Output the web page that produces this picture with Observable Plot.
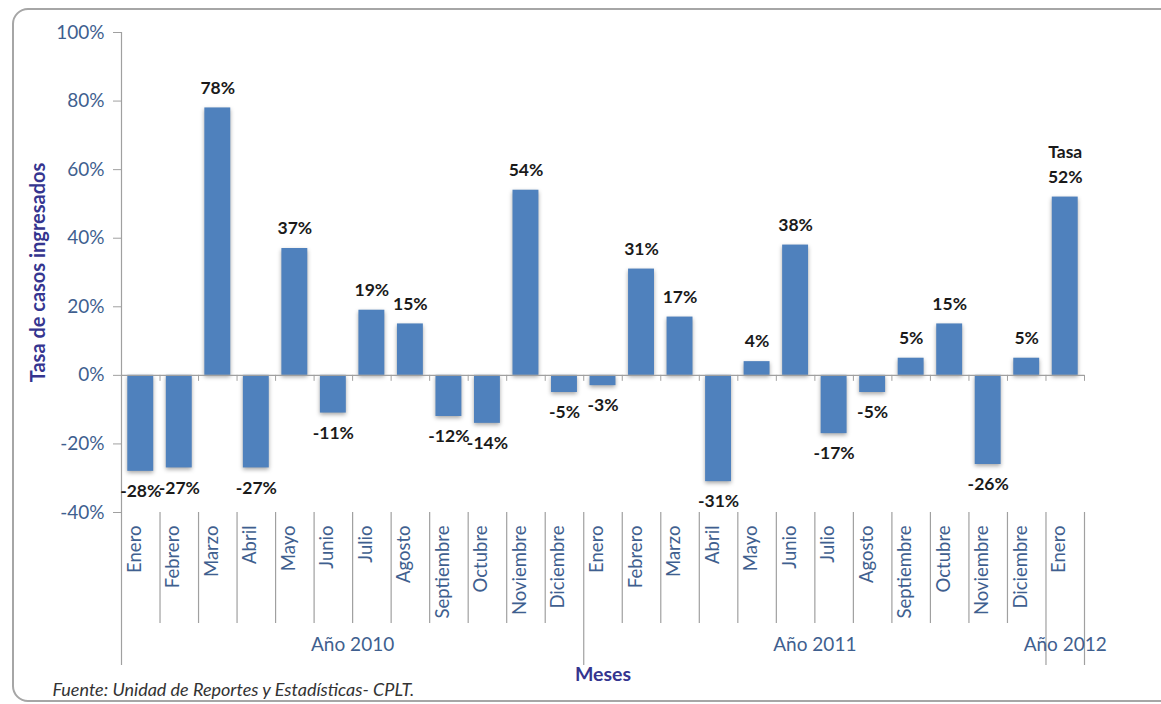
<!DOCTYPE html>
<html>
<head>
<meta charset="utf-8">
<script src="https://cdn.jsdelivr.net/npm/d3@7"></script>
<script src="https://cdn.jsdelivr.net/npm/@observablehq/plot@0.6"></script>
<style>
  html, body { margin: 0; padding: 0; background: #fff; }
  #wrap { position: relative; width: 1161px; height: 704px; overflow: hidden; }
  #frame { position: absolute; left: 12px; top: 8px; width: 1170px; height: 694px;
           border: 2px solid #a6a6a6; border-radius: 16px; box-sizing: border-box; }
  #chart { position: absolute; left: 0; top: 0; }
  g[aria-label^="y-axis"] text { fill: #3F5F8F; font-size: 19px; }
  .shadow rect { filter: drop-shadow(0px 2px 2px rgba(0,0,0,0.35)); }
</style>
</head>
<body>
<div id="wrap"><div id="frame"></div><div id="chart"></div></div>
<script>
const months = ["Enero","Febrero","Marzo","Abril","Mayo","Junio","Julio","Agosto","Septiembre","Octubre","Noviembre","Diciembre",
                "Enero","Febrero","Marzo","Abril","Mayo","Junio","Julio","Agosto","Septiembre","Octubre","Noviembre","Diciembre",
                "Enero"];
const values = [-28, -27, 78, -27, 37, -11, 19, 15, -12, -14, 54, -5,
                -3, 31, 17, -31, 4, 38, -17, -5, 5, 15, -26, 5,
                52];
const years = ["Año 2010", "Año 2011", "Año 2012"];
const yearCounts = [12, 12, 1];
const yTicks = [-40, -20, 0, 20, 40, 60, 80, 100];
const yTitle = "Tasa de casos ingresados";
const xTitle = "Meses";
const source = "Fuente: Unidad de Reportes y Estadísticas- CPLT.";
const extraLabel = "Tasa";

const data = values.map((v, i) => ({i, v, m: months[i]}));
const n = values.length;
const yMin = yTicks[0], yMax = yTicks[yTicks.length - 1];

// year groups
let start = 0;
const yearData = years.map((y, k) => {
  const d = {label: y, start, end: start + yearCounts[k]};
  start += yearCounts[k];
  return d;
});
const yearSeps = [0, ...yearData.map(d => d.end)];
const monthSeps = d3.range(1, n).filter(i => !yearSeps.includes(i));
const boundaries = d3.range(0, n + 1);

const axisColor = "#a0a0a0";
const labelBlue = "#3F5F8F";
const titleBlue = "#35358F";
const valueSize = 17.5;

const chart = Plot.plot({
  width: 1161,
  height: 704,
  marginLeft: 121,
  marginRight: 77,
  marginTop: 32,
  marginBottom: 192,
  style: {fontFamily: "Lato, 'Open Sans', sans-serif", fontSize: "18px", color: axisColor, background: "transparent", overflow: "visible"},
  x: {domain: [0, n], axis: null},
  y: {domain: [yMin, yMax], ticks: yTicks, tickFormat: d => d + "%", tickSize: 8, tickPadding: 9, label: null},
  marks: [
    // y axis line
    Plot.ruleX([0], {stroke: axisColor, strokeWidth: 1.2}),
    // bars
    Plot.rectY(data, {x1: d => d.i, x2: d => d.i + 1, y: "v", insetLeft: 6.3, insetRight: 6.3, fill: "#4F81BD", className: "shadow"}),
    // zero line
    Plot.ruleY([0], {stroke: axisColor, strokeWidth: 1.2}),
    // small ticks on zero line
    Plot.ruleX(boundaries, {x: d => d, y1: () => 0, y2: () => 0, insetBottom: -6, stroke: axisColor}),
    // month separators
    Plot.ruleX(monthSeps, {x: d => d, y1: () => yMin, y2: () => yMin, insetBottom: -111, stroke: axisColor, strokeWidth: 1.2}),
    // year separators
    Plot.ruleX(yearSeps, {x: d => d, y1: () => yMin, y2: () => yMin, insetBottom: -153, stroke: axisColor, strokeWidth: 1.2}),
    // month labels
    Plot.text(data, {x: d => d.i + 0.5, text: "m", frameAnchor: "bottom", rotate: -90, textAnchor: "end", dy: 13, fill: labelBlue, fontSize: 18.5}),
    // year labels
    Plot.text(yearData, {x: d => (d.start + d.end) / 2, text: "label", frameAnchor: "bottom", dy: 138, fill: labelBlue, fontSize: 19}),
    // value labels
    Plot.text(data.filter(d => d.v >= 0), {x: d => d.i + 0.5, y: "v", text: d => d.v + "%", dy: -20, fill: "#1a1a1a", fontWeight: "bold", fontSize: valueSize}),
    Plot.text(data.filter(d => d.v < 0), {x: d => d.i + 0.5, y: "v", text: d => d.v + "%", dy: 20, fill: "#1a1a1a", fontWeight: "bold", fontSize: valueSize}),
    Plot.text(data.slice(-1), {x: d => d.i + 0.5, y: "v", text: () => extraLabel, dy: -45, fill: "#1a1a1a", fontWeight: "bold", fontSize: valueSize}),
    // axis titles
    Plot.text([yTitle], {text: d => d, frameAnchor: "left", textAnchor: "middle", dx: -83, rotate: -90, fill: titleBlue, fontWeight: "bold", fontSize: 20}),
    Plot.text([xTitle], {text: d => d, frameAnchor: "bottom", dy: 168, fill: titleBlue, fontWeight: "bold", fontSize: 19.5}),
    // source
    Plot.text([source], {text: d => d, frameAnchor: "bottom-left", dx: -69, dy: 183, textAnchor: "start", fill: "#333", fontStyle: "italic", fontSize: 18})
  ]
});
document.getElementById("chart").appendChild(chart);
</script>
</body>
</html>
